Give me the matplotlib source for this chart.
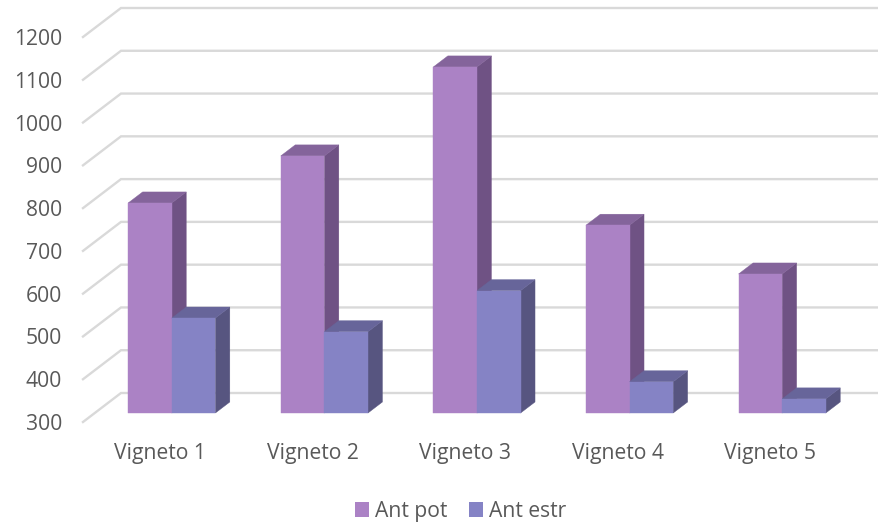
import matplotlib
matplotlib.use("Agg")
import matplotlib.pyplot as plt
from matplotlib.patches import Patch

categories = ["Vigneto 1", "Vigneto 2", "Vigneto 3", "Vigneto 4", "Vigneto 5"]
ant_pot = [791, 901, 1109, 739, 625]
ant_estr = [522, 490, 586, 373, 333]
y_ticks = [300, 400, 500, 600, 700, 800, 900, 1000, 1100, 1200]
series_names = ["Ant pot", "Ant estr"]

W, H = 879, 525
LEFT, RIGHT = 83, 879      # front plane, px
Y300, Y1200 = 422, 37      # px
CAT_PX = 152.6
CENTER0 = 160
PX_PER_VAL = (Y300 - Y1200) / 900

plt.rcParams["font.family"] = ["Open Sans", "DejaVu Sans"]
TEXT = "#595959"
GRID = "#D9D9D9"
FS = 15.2

fig = plt.figure(figsize=(W / 100, H / 100), dpi=100, facecolor="white")
ax = fig.add_axes([LEFT / W, 1 - Y300 / H, (RIGHT - LEFT) / W, (Y300 - Y1200) / H])
ax.set_xlim((LEFT - CENTER0) / CAT_PX, (RIGHT - CENTER0) / CAT_PX)
ax.set_ylim(300, 1200)
for s in ax.spines.values():
    s.set_visible(False)
ax.patch.set_visible(False)

DX = 38 / CAT_PX           # full depth, category units
DY = 29 / PX_PER_VAL       # full depth, value units
D0, D1 = 0.31, 0.69        # bar depth range
BAR_W = 43.6 / CAT_PX

# walls / gridlines
x0 = ax.get_xlim()[0]
x1 = ax.get_xlim()[1]
for v in y_ticks:
    ax.plot([x0, x0 + DX, x1], [v, v + DY, v + DY], color=GRID, lw=1.7,
            clip_on=False, zorder=1, solid_joinstyle="miter")


def box(ax, xl, xr, top, front, side, cap, z):
    base = 300 + D0 * DY
    top_y = top + D0 * DY
    sx, sy = (D1 - D0) * DX, (D1 - D0) * DY
    off = D0 * DX
    xl, xr = xl + off, xr + off
    ax.fill([xr, xr + sx, xr + sx, xr], [base, base + sy, top_y + sy, top_y],
            facecolor=side, edgecolor=side, lw=0.3, clip_on=False, zorder=z)
    ax.fill([xl, xr, xr + sx, xl + sx], [top_y, top_y, top_y + sy, top_y + sy],
            facecolor=cap, edgecolor=cap, lw=0.3, clip_on=False, zorder=z)
    ax.fill([xl, xr, xr, xl], [base, base, top_y, top_y],
            facecolor=front, edgecolor=front, lw=0.3, clip_on=False, zorder=z)


for i, (p, e) in enumerate(zip(ant_pot, ant_estr)):
    box(ax, i - BAR_W, i, p, "#AB82C5", "#6F5284", "#84649B", 3 + 2 * i)
    box(ax, i, i + BAR_W, e, "#8583C5", "#575580", "#67659A", 4 + 2 * i)

ax.set_xticks(range(len(categories)))
ax.set_xticklabels(categories, fontsize=FS, color=TEXT)
ax.set_yticks(y_ticks)
ax.set_yticklabels([str(v) for v in y_ticks], fontsize=FS, color=TEXT)
ax.tick_params(axis="both", length=0)
ax.tick_params(axis="x", pad=15)
ax.tick_params(axis="y", pad=15)

handles = [Patch(facecolor="#AB82C5", label=series_names[0]),
           Patch(facecolor="#8583C5", label=series_names[1])]
fig.legend(handles=handles, loc="center", bbox_to_anchor=(460.5 / W, 1 - 511.5 / H), ncol=2,
           frameon=False, fontsize=FS, labelcolor=TEXT, handlelength=0.66, handleheight=0.66,
           handletextpad=0.3, columnspacing=1.0, borderpad=0)

fig.savefig("out.png", dpi=100)
